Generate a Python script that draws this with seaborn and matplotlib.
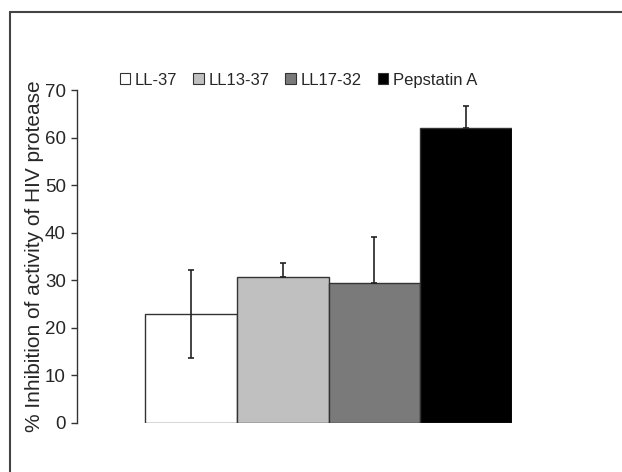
import numpy as np
import matplotlib
matplotlib.use("Agg")
import matplotlib.pyplot as plt
from matplotlib.patches import Patch
from matplotlib.lines import Line2D
import seaborn as sns

peptides = ["LL-37", "LL13-37", "LL17-32", "Pepstatin A"]
inhibition = [22.8, 30.7, 29.3, 62.0]
err_up = [9.4, 2.8, 9.8, 4.6]
err_down = [9.2, 0, 0, 0]
bar_colors = ["#ffffff", "#c0c0c0", "#7a7a7a", "#000000"]

sns.set_style("white")
plt.rcParams["font.family"] = ["Liberation Sans", "DejaVu Sans"]

fig = plt.figure(figsize=(6.22, 4.72), dpi=100)
ax = fig.add_axes([0.1238, 0.1045, 0.6994, 0.7048])

sns.barplot(x=peptides, y=inhibition, hue=peptides, palette=bar_colors,
            width=1.0, edgecolor="#333333", linewidth=1.0, legend=False, ax=ax)

ax.errorbar(np.arange(len(peptides)), inhibition, yerr=[err_down, err_up],
            fmt="none", ecolor="#222222", elinewidth=1.2, capsize=2.5, capthick=1.2)

ax.set_xlim(-1.242, 3.5)
ax.set_ylim(0, 70)
ax.set_yticks(range(0, 71, 10))
ax.set_xticks([])
ax.tick_params(axis="y", direction="out", length=4, width=1, color="#333333",
               labelsize=13.5, pad=4, left=True)
for s in ["top", "right", "bottom"]:
    ax.spines[s].set_visible(False)
ax.spines["left"].set_color("#333333")
ax.spines["left"].set_linewidth(1.0)

ax.set_ylabel("% Inhibition of activity of HIV protease", fontsize=15)
ax.yaxis.set_label_coords(-0.076, 0.5)

handles = [Patch(facecolor=c, edgecolor="#333333", linewidth=0.8) for c in bar_colors]
fig.legend(handles, peptides, loc="center", bbox_to_anchor=(0.48, 0.83), ncol=4,
           frameon=False, fontsize=12, handlelength=0.62, handleheight=0.62,
           handletextpad=0.3, columnspacing=0.95, borderpad=0)

# outer frame (only top and left edges are visible in the image)
fig.add_artist(Line2D([0.016, 0.016], [0.0, 0.9746], color="#444444", linewidth=1.5))
fig.add_artist(Line2D([0.016, 1.0], [0.9746, 0.9746], color="#444444", linewidth=1.5))

fig.savefig("out.png", dpi=100)
